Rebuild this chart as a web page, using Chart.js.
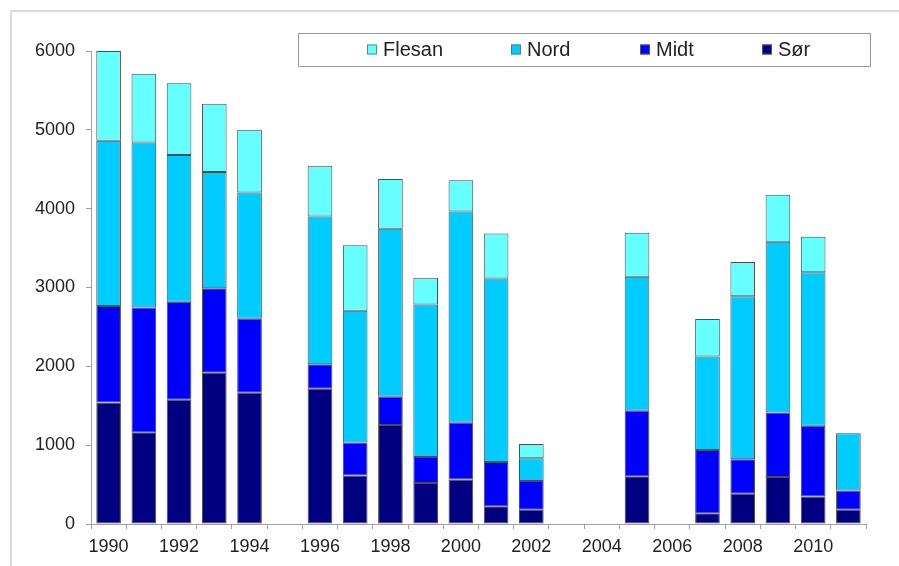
<!DOCTYPE html>
<html>
<head>
<meta charset="utf-8">
<script src="https://cdn.jsdelivr.net/npm/chart.js@4.4.1/dist/chart.umd.min.js"></script>
<style>
  html, body { margin: 0; padding: 0; background: #ffffff; }
  #wrap { width: 899px; height: 566px; position: relative; }
</style>
</head>
<body>
<div id="wrap"><canvas id="c" width="899" height="566"></canvas></div>
<script>
// Years on the category axis (1990–2011); empty years stay as gaps
const years = ['1990','1991','1992','1993','1994','1995','1996','1997','1998','1999','2000',
               '2001','2002','2003','2004','2005','2006','2007','2008','2009','2010','2011'];

// Catch per region, stacked bottom to top: Sør, Midt, Nord, Flesan
const sor    = [1540, 1165, 1575, 1920, 1665, null, 1715, 615, 1255, 520, 565, 225, 180, null, null, 605, null, 135, 385, 595, 350, 180];
const midt   = [1225, 1580, 1245, 1070,  940, null,  310, 420,  360, 330, 720, 560, 365, null, null, 830, null, 805, 435, 820, 895, 245];
const nord   = [2095, 2095, 1860, 1475, 1600, null, 1875, 1670, 2130, 1935, 2680, 2330, 290, null, null, 1700, null, 1185, 2070, 2165, 1950, 725];
const flesan = [1140,  870,  910,  865,  795, null,  645, 830,  630, 340, 395, 570, 180, null, null, 560, null, 475, 435, 595, 450, null];

const yTicks = [0, 1000, 2000, 3000, 4000, 5000, 6000];

const FONT = 'Liberation Sans, Arial, sans-serif';
const TEXT = '#222222';

// Light grey frame along the left and top edges
const framePlugin = {
  id: 'frame',
  beforeDraw(chart) {
    const ctx = chart.ctx;
    ctx.save();
    ctx.fillStyle = '#ffffff';
    ctx.fillRect(0, 0, chart.width, chart.height);
    ctx.strokeStyle = '#cfcfcf';
    ctx.lineWidth = 1.5;
    ctx.beginPath();
    ctx.moveTo(11, chart.height);
    ctx.lineTo(11, 11);
    ctx.lineTo(chart.width, 11);
    ctx.stroke();
    ctx.restore();
  }
};

// Boxed legend across the top, listing series from top of stack down
const boxLegend = {
  id: 'boxLegend',
  afterDraw(chart) {
    const ctx = chart.ctx;
    const box = { left: 298, top: 33, right: 870, bottom: 66 };
    const slots = [367, 511, 640, 762];
    ctx.save();
    ctx.fillStyle = '#ffffff';
    ctx.fillRect(box.left, box.top, box.right - box.left, box.bottom - box.top);
    ctx.strokeStyle = '#9a9a9a';
    ctx.lineWidth = 1;
    ctx.strokeRect(box.left + 0.5, box.top + 0.5, box.right - box.left, box.bottom - box.top);

    const items = chart.data.datasets.slice().reverse();
    const cy = (box.top + box.bottom) / 2;
    ctx.font = '20px ' + FONT;
    ctx.textBaseline = 'middle';
    items.forEach((ds, i) => {
      const x = slots[i];
      ctx.fillStyle = ds.backgroundColor;
      ctx.fillRect(x, cy - 5, 10, 10);
      ctx.strokeStyle = '#666666';
      ctx.lineWidth = 0.8;
      ctx.strokeRect(x + 0.5, cy - 4.5, 9, 9);
      ctx.fillStyle = TEXT;
      ctx.fillText(ds.label, x + 16, cy + 1);
    });
    ctx.restore();
  }
};

const barStyle = { borderColor: '#4d4d4d', borderWidth: 1, borderSkipped: false,
                   barPercentage: 0.7, categoryPercentage: 1.0 };

new Chart(document.getElementById('c'), {
  type: 'bar',
  data: {
    labels: years,
    datasets: [
      Object.assign({ label: 'Sør',    data: sor,    backgroundColor: '#000080' }, barStyle),
      Object.assign({ label: 'Midt',   data: midt,   backgroundColor: '#0000ff' }, barStyle),
      Object.assign({ label: 'Nord',   data: nord,   backgroundColor: '#00ccff' }, barStyle),
      Object.assign({ label: 'Flesan', data: flesan, backgroundColor: '#66ffff' }, barStyle)
    ]
  },
  options: {
    responsive: false,
    animation: false,
    devicePixelRatio: 1,
    layout: { padding: { left: 0, right: 33, top: 51, bottom: 0 } },
    plugins: { legend: { display: false }, tooltip: { enabled: false } },
    scales: {
      x: {
        stacked: true,
        offset: true,
        grid: { display: true, offset: true, drawOnChartArea: false, drawTicks: true,
                tickLength: 5, color: '#a0a0a0' },
        border: { display: true, color: '#a0a0a0', width: 1 },
        ticks: {
          autoSkip: false, maxRotation: 0, minRotation: 0, padding: 7,
          color: TEXT, font: { family: FONT, size: 18 },
          callback: (v, i) => (i % 2 === 0 ? years[i] : '')
        },
        afterFit(scale) { scale.height = 42; }
      },
      y: {
        stacked: true,
        min: 0, max: 6000,
        afterBuildTicks(scale) { scale.ticks = yTicks.map(v => ({ value: v })); },
        grid: { display: true, drawOnChartArea: false, drawTicks: true, tickLength: 5, color: '#a0a0a0' },
        border: { display: true, color: '#a0a0a0', width: 1 },
        ticks: { padding: 11, color: TEXT, font: { family: FONT, size: 18 },
                 callback: v => String(v) },
        afterFit(scale) { scale.width = 91; }
      }
    }
  },
  plugins: [framePlugin, boxLegend]
});
</script>
</body>
</html>
